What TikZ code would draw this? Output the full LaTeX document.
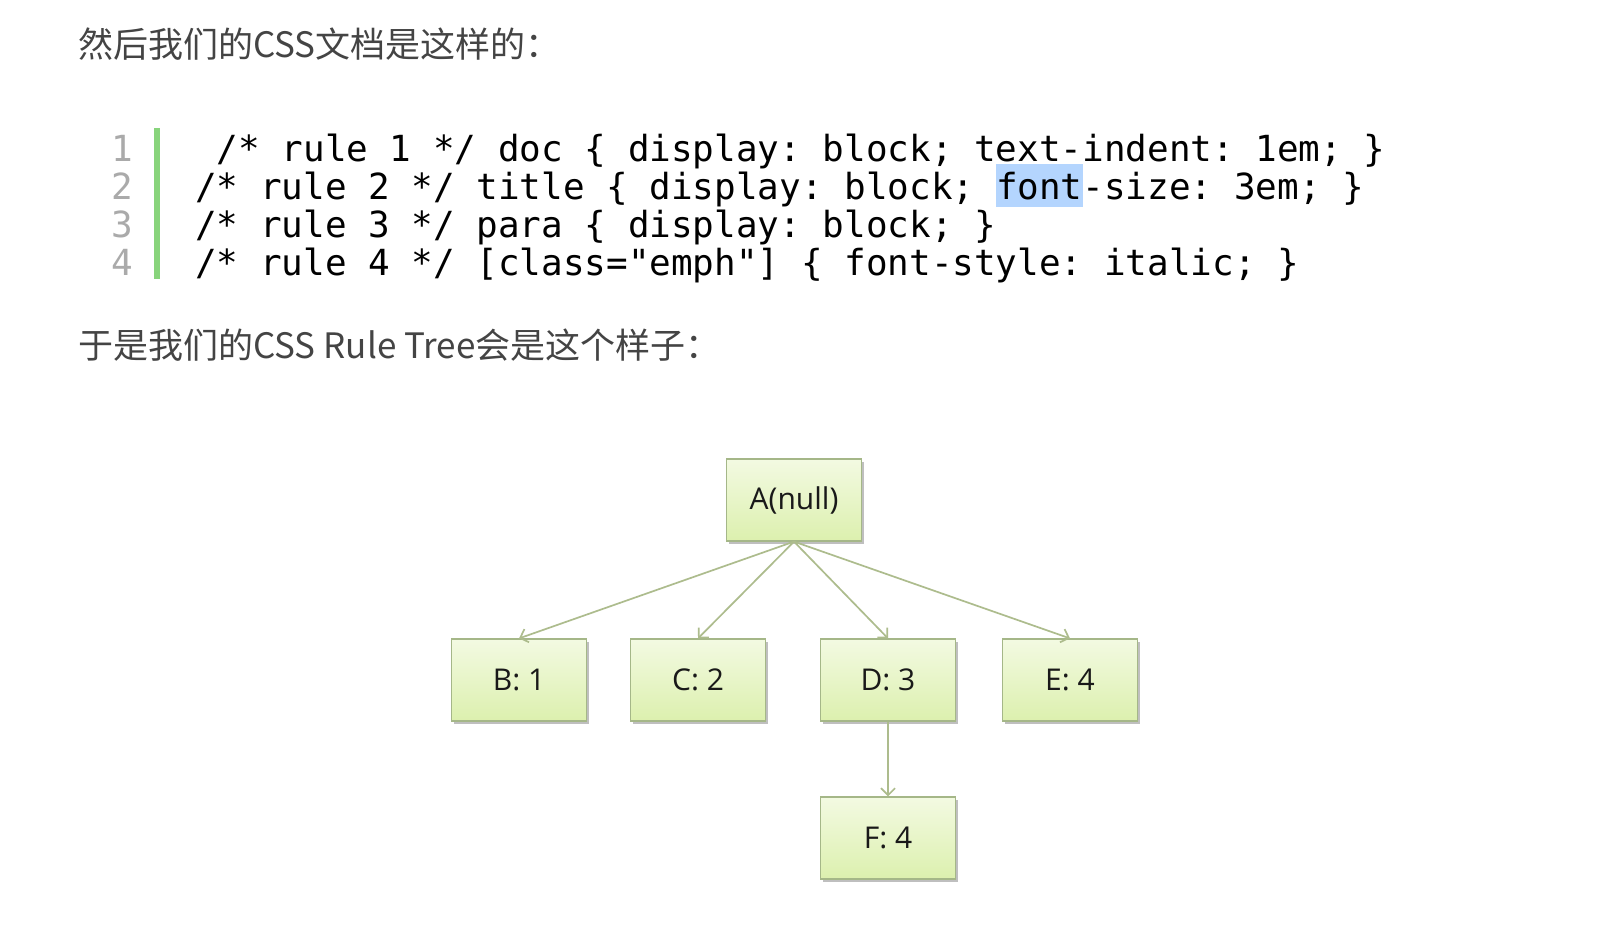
\documentclass[tikz,border=0pt]{standalone}
\usepackage{fontspec}
\setmainfont{Open Sans}
\newfontfamily\cjkfont{Noto Sans CJK SC}
\newfontfamily\codefont{DejaVu Sans Mono}
\usetikzlibrary{arrows.meta,shadows}

\definecolor{headgray}{HTML}{444444}
\definecolor{lnumgray}{HTML}{AAAAAA}
\definecolor{bargreen}{HTML}{88D47C}
\definecolor{hlblue}{HTML}{B4D5FE}
\definecolor{boxedge}{HTML}{A5B788}
\definecolor{boxtop}{HTML}{F3FAE2}
\definecolor{boxbot}{HTML}{DCF0AE}
\definecolor{treeline}{HTML}{ADBC8D}

\newcommand{\hlword}[1]{{\setlength{\fboxsep}{0pt}\colorbox{hlblue}{\rule[-8pt]{0pt}{43pt}#1}}}

\begin{document}
\begin{tikzpicture}[
  x=1pt, y=-1pt,
  headtxt/.style = {anchor=base west, inner sep=0pt, text=headgray,
                    font=\cjkfont\fontsize{35}{42}\selectfont},
  codetxt/.style = {anchor=base west, inner sep=0pt,
                    font=\codefont\fontsize{35.95}{38}\selectfont\frenchspacing},
  lnum/.style    = {anchor=base east, inner sep=0pt, text=lnumgray,
                    font=\codefont\fontsize{35.95}{38}\selectfont},
  rulebox/.style = {draw=boxedge, line width=1.2pt, top color=boxtop,
                    bottom color=boxbot, minimum width=135pt,
                    minimum height=82pt, inner sep=0pt, text=black!90,
                    font=\fontsize{30}{34}\selectfont,
                    drop shadow={shadow xshift=2pt, shadow yshift=-3pt,
                                 opacity=0.25, fill=black}},
  treearr/.style = {-{Straight Barb[length=7pt,width=14pt]},
                    line width=1.7pt, treeline},
]
\useasboundingbox[fill=white] (0,0) rectangle (1608,930);

% Headings
\node[headtxt] (title1) at (78,57) {然后我们的CSS文档是这样的：};
\node[headtxt] (title2) at (78,358) {于是我们的CSS Rule Tree会是这个样子：};

% Code listing
\fill[bargreen] (154,128) rectangle (160,279);
\foreach \n/\y in {1/161,2/199,3/237,4/275}
  \node[lnum] (ln\n) at (133,\y) {\n};
\node[codetxt] (code1) at (195,161)
  {\ /* rule 1 */ doc \{ display: block; text-indent: 1em; \}};
\node[codetxt] (code2) at (195,199)
  {/* rule 2 */ title \{ display: block; \hlword{font}-size: 3em; \}};
\node[codetxt] (code3) at (195,237)
  {/* rule 3 */ para \{ display: block; \}};
\node[codetxt] (code4) at (195,275)
  {/* rule 4 */ [class="emph"] \{ font-style: italic; \}};

% Rule tree
\node[rulebox] (ruleA) at (794,500) {A(null)};
\node[rulebox] (ruleB) at (519,680) {B: 1};
\node[rulebox] (ruleC) at (698,680) {C: 2};
\node[rulebox] (ruleD) at (888,680) {D: 3};
\node[rulebox] (ruleE) at (1070,680) {E: 4};
\node[rulebox] (ruleF) at (888,838) {F: 4};

\draw[treearr] (ruleA.south) -- (ruleB.north);
\draw[treearr] (ruleA.south) -- (ruleC.north);
\draw[treearr] (ruleA.south) -- (ruleD.north);
\draw[treearr] (ruleA.south) -- (ruleE.north);
\draw[treearr] (ruleD.south) -- (ruleF.north);

\end{tikzpicture}
\end{document}
